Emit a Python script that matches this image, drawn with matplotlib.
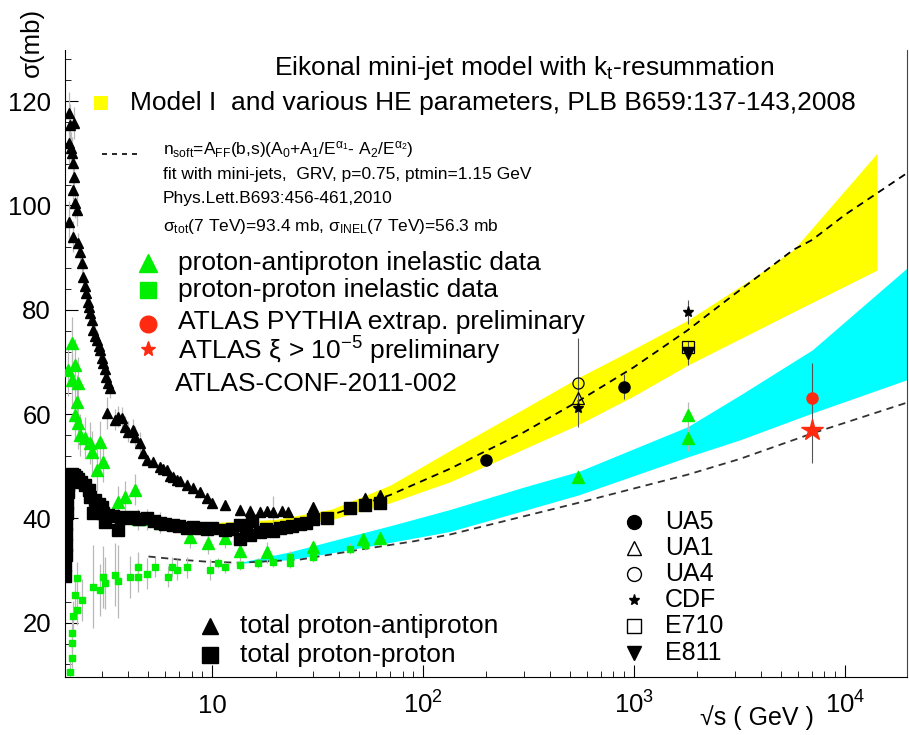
import matplotlib.pyplot as plt
from matplotlib.ticker import MultipleLocator, NullFormatter
import matplotlib.transforms as mtransforms

plt.rcParams['font.family'] = ['Liberation Sans', 'DejaVu Sans']
plt.rcParams['mathtext.fontset'] = 'custom'
plt.rcParams['mathtext.rm'] = 'Liberation Sans'
plt.rcParams['mathtext.it'] = 'Liberation Sans:italic'
plt.rcParams['mathtext.sf'] = 'Liberation Sans'

# --- model bands (sqrt(s) in GeV, sigma in mb) ---
yellow_E = [10, 20, 37, 70, 134, 300, 546, 1000, 1800, 3550, 5700, 14200]
yellow_hi = [39.2, 39.8, 41.8, 46.4, 53.0, 61.0, 67.0, 72.5, 78.0, 85.7, 91.5, 110.0]
yellow_lo = [38.4, 38.6, 39.8, 43.0, 47.0, 53.3, 58.0, 63.5, 69.4, 75.4, 79.6, 87.6]

cyan_E = [13.6, 23.4, 37, 70, 134, 300, 546, 1800, 3200, 7000, 19700]
cyan_hi = [31.6, 33.6, 35.7, 38.6, 41.7, 46.0, 49.0, 57.6, 63.7, 72.3, 88.0]
cyan_lo = [31.4, 32.1, 33.4, 35.4, 37.5, 41.5, 44.5, 51.8, 55.1, 60.2, 66.6]

# --- eikonal mini-jet fits ---
fit_tot_E = [10, 13, 20, 37, 70, 134, 300, 546, 1000, 1800, 3000, 5700, 7000, 10000, 19700]
fit_tot = [38.8, 38.5, 39.0, 40.7, 44.5, 49.5, 56.5, 62.5, 69.0, 76.1, 83.0, 91.5, 93.4, 98.2, 106.2]
fit_inel_E = [5, 7, 9.5, 13.6, 26, 50, 90, 134, 300, 546, 1800, 3177, 7000, 19700]
fit_inel = [32.7, 32.1, 31.7, 31.5, 32.1, 34.0, 35.6, 36.9, 40.4, 43.0, 48.4, 51.4, 56.3, 62.2]

# --- total proton-antiproton ---
pbar_tot_E = [2.10, 2.12, 2.22, 2.10, 2.15, 2.17, 2.19, 2.22, 2.19, 2.24, 2.29, 2.10, 2.19, 2.32,
              2.36, 2.42, 2.45, 2.50, 2.53, 2.58, 2.61, 2.65, 2.70, 2.73, 2.80, 2.85, 2.90, 2.95,
              3.00, 3.04, 3.10, 3.15, 3.21, 3.29, 3.17, 3.47, 3.60, 3.74, 3.87, 4.00, 4.22, 4.32,
              4.56, 4.70, 4.92, 5.25, 5.67, 5.86, 6.12, 6.32, 6.53, 6.82, 7.05, 7.62, 8.13, 8.78,
              9.47, 10.0, 11.5, 13.6, 15.1, 16.9, 18.2, 19.5, 21.5, 22.9, 30.1, 53.1, 62.5]
pbar_tot = [117.7, 115.5, 115.8, 112.0, 111.0, 110.1, 108.1, 105.5, 103.0, 100.5, 99.1, 96.8, 94.0, 92.8,
            91.0, 89.0, 86.3, 84.5, 83.2, 81.5, 80.6, 79.3, 78.1, 76.1, 75.0, 74.2, 73.0, 72.3,
            70.8, 69.8, 68.6, 67.1, 66.0, 65.0, 60.2, 58.9, 59.5, 59.3, 57.6, 56.6, 57.0, 55.7,
            54.5, 52.5, 51.2, 50.9, 49.9, 49.5, 49.3, 48.2, 48.0, 47.4, 47.2, 46.5, 45.9, 45.0,
            44.0, 43.0, 42.6, 41.7, 41.5, 41.3, 41.4, 41.3, 41.5, 41.3, 42.2, 44.0, 44.5]
pbar_tot_err = [4, 4, 3, 4, 3, 3, 3, 3, 3, 3, 3, 4, 3, 2,
                2, 2, 2, 2, 2, 2, 2, 2, 2, 2, 2, 2, 2, 2,
                2, 2, 2, 2, 2, 2, 3, 2, 2, 2, 2, 2, 2, 2,
                2, 1, 1, 1, 1, 1, 1, 1, 1, 1, 1, 1, 1, 1,
                1, 1, 1, 1, 1, 1, 1, 3, 1, 1, 1, 1, 1]

# --- total proton-proton ---
pp_tot_E = [2.02, 2.02, 2.03, 2.03, 2.04, 2.04, 2.05, 2.06, 2.07, 2.08, 2.10, 2.13, 2.17, 2.22, 2.27,
            2.32, 2.40, 2.50, 2.60, 2.65, 2.73, 2.80, 2.90, 3.00, 3.04, 3.10, 3.20, 3.40, 3.59, 3.70,
            4.00, 4.22, 4.50, 4.92, 5.30, 5.67, 6.00, 6.53, 7.00, 7.62, 8.13, 8.78, 9.50, 10.0, 11.5,
            12.5, 13.6, 13.6, 14.5, 15.1, 15.5, 16.9, 18.0, 19.5, 21.0, 22.5, 24.0, 26.1, 28.0, 30.1,
            35.1, 45.1, 53.1, 62.5]
pp_tot = [29.0, 31.0, 33.0, 35.0, 37.0, 39.0, 41.0, 43.0, 45.0, 46.5, 47.5, 48.2, 48.5, 48.3, 48.0,
          47.6, 47.0, 46.5, 45.5, 44.2, 41.1, 43.5, 42.8, 42.2, 41.1, 39.4, 40.7, 40.5, 37.8, 40.3,
          40.0, 40.3, 39.8, 40.0, 39.5, 39.2, 39.0, 38.8, 38.6, 38.2, 38.4, 38.2, 38.0, 38.1, 37.8,
          38.0, 38.8, 36.0, 37.5, 36.9, 39.5, 37.4, 38.0, 37.6, 38.2, 38.3, 38.6, 38.9, 39.2, 39.8,
          40.1, 42.0, 42.6, 43.0]

# --- inelastic proton-antiproton ---
pbar_inel_E = [2.08, 2.17, 2.24, 2.17, 2.32, 2.29, 2.24, 2.32, 2.37, 2.50, 2.64, 2.70, 2.95, 2.85,
               3.04, 3.59, 3.87, 4.32, 4.46, 4.92, 5.67, 7.87, 9.57, 11.5, 13.6, 18.2, 30.1, 52.0,
               62.5, 546, 1800, 1800]
pbar_inel = [68.5, 73.7, 69.4, 66.6, 66.0, 62.4, 59.9, 58.3, 56.0, 55.4, 54.5, 52.8, 54.7, 49.3,
             50.9, 43.2, 44.2, 45.5, 39.8, 39.8, 39.2, 36.4, 35.2, 36.3, 33.8, 33.5, 34.5, 36.0,
             36.2, 48.0, 55.4, 59.9]
pbar_inel_err = [5, 5, 5, 5, 5, 5, 5, 5, 4, 4, 4, 4, 4, 4,
                 4, 3, 3, 3, 2, 2, 2, 2, 2, 2, 2, 2, 1, 1,
                 1, 1.3, 2.5, 2.5]

# --- inelastic proton-proton ---
pp_inel_E = [2.12, 2.17, 2.17, 2.17, 2.19, 2.29, 2.24, 2.42, 2.29, 2.73, 2.95, 3.04, 3.11, 3.47,
             3.59, 4.08, 4.46, 4.46, 4.92, 5.37, 6.18, 6.46, 6.82, 7.62, 9.78, 10.7, 11.5, 13.6,
             16.5, 19.5, 23.4, 23.4, 30.1, 45.1, 53.1]
pp_inel = [10.6, 13.3, 16.2, 18.1, 21.2, 22.5, 25.4, 24.4, 28.6, 26.9, 26.3, 28.8, 27.7, 29.2,
           28.0, 28.8, 30.6, 28.8, 29.4, 30.7, 28.8, 30.7, 30.2, 30.6, 30.2, 31.5, 30.6, 31.1,
           31.5, 31.7, 32.7, 31.5, 32.6, 34.2, 35.0]
pp_inel_err = [2, 2, 2, 3, 3, 3, 3, 4, 3, 8, 5, 6, 5, 6,
               7, 4, 3, 3, 3, 2, 2, 2, 2, 2, 2, 1, 1, 1,
               1, 1, 1, 1, 1, 1, 1]

# --- collider measurements of sigma_tot ---
ua5_E = [200, 900]
ua5 = [51.2, 65.2]
ua5_err = [1.2, 2.4]
ua1_E = [546]
ua1 = [63.0]
ua4_E = [546]
ua4 = [66.0]
ua4_err = [8.5]
cdf_E = [546, 1800]
cdf = [61.2, 79.6]
cdf_err = [1.0, 2.3]
e710_E = [1800]
e710 = [72.9]
e811_E = [1800]
e811 = [71.7]
e811_err = [2.3]

# --- ATLAS 7 TeV inelastic ---
atlas_pythia_E = [7000]
atlas_pythia = [63.0]
atlas_pythia_err = [[12.3], [6.8]]
atlas_xi_E = [7000]
atlas_xi = [57.0]

fig = plt.figure(figsize=(9.09, 7.35), dpi=100)
ax = fig.add_axes([65 / 909, 1 - 677 / 735, 842 / 909, 627 / 735])

ax.fill_between(yellow_E, yellow_lo, yellow_hi, color='#ffff00', lw=0, zorder=1)
ax.fill_between(cyan_E, cyan_lo, cyan_hi, color='#00ffff', lw=0, zorder=1)
ax.plot(fit_tot_E, fit_tot, ls=(0, (4, 3)), color='black', lw=1.3, zorder=2)
ax.plot(fit_inel_E, fit_inel, ls=(0, (4, 3)), color='#333333', lw=1.3, zorder=2)

ebar = dict(ls='none', ecolor='#b8b8b8', elinewidth=0.9, capsize=0)
ax.errorbar(pp_inel_E, pp_inel, yerr=pp_inel_err, fmt='s', ms=5, mfc='#00ee00', mec='#00ee00', zorder=3, **ebar)
ax.errorbar(pbar_inel_E, pbar_inel, yerr=pbar_inel_err, fmt='^', ms=8, mfc='#00ee00', mec='#00ee00', zorder=4, **ebar)
ax.errorbar(pp_tot_E, pp_tot, fmt='s', ms=8, mfc='black', mec='black', zorder=5, ls='none')
ax.errorbar(pbar_tot_E, pbar_tot, yerr=pbar_tot_err, fmt='^', ms=7, mfc='black', mec='black', zorder=5, **ebar)

dark = dict(ls='none', ecolor='#555555', elinewidth=0.8, capsize=0, zorder=6)
ax.errorbar(ua4_E, ua4, yerr=ua4_err, fmt='o', ms=8, mfc='none', mec='black', mew=0.9, **dark)
ax.errorbar(ua1_E, ua1, fmt='^', ms=8, mfc='none', mec='black', mew=0.9, **dark)
ax.errorbar(cdf_E, cdf, yerr=cdf_err, fmt='*', ms=8, mfc='black', mec='black', **dark)
ax.errorbar(e710_E, e710, fmt='s', ms=8, mfc='none', mec='black', mew=0.9, **dark)
ax.errorbar(e811_E, e811, yerr=e811_err, fmt='v', ms=8, mfc='black', mec='black', **dark)
ax.errorbar(ua5_E, ua5, yerr=ua5_err, fmt='o', ms=8, mfc='black', mec='black', **dark)
ax.errorbar(atlas_pythia_E, atlas_pythia, yerr=atlas_pythia_err, fmt='o', ms=8, mfc='#ff2a10', mec='#ff2a10', **dark)
ax.plot(atlas_xi_E, atlas_xi, '*', ms=16, color='#ff2a10', zorder=7)

ax.set_xscale('log')
ax.set_xlim(2.01, 19700)
ax.set_ylim(9.6, 129.8)
ax.spines['top'].set_visible(False)
ax.spines['right'].set_color('#444444')
ax.set_yticks([20, 40, 60, 80, 100, 120])
ax.yaxis.set_minor_locator(MultipleLocator(4))
ax.tick_params(axis='both', which='major', direction='in', length=9, width=0.8, labelsize=18.5,
               top=False, right=False)
ax.tick_params(axis='both', which='minor', direction='in', length=4.5, width=0.6, top=False, right=False)
ax.tick_params(axis='y', pad=10)
ax.set_xticks([10, 100, 1000, 10000])
ax.xaxis.set_major_formatter(NullFormatter())
ax.xaxis.set_minor_formatter(NullFormatter())

xtrans = mtransforms.blended_transform_factory(ax.transData, ax.transAxes)
for tick, lab in zip([10, 100, 1000, 10000], ['10', '$10^{2}$', '$10^{3}$', '$10^{4}$']):
    ax.text(tick, -0.058, lab, transform=xtrans, ha='center', va='baseline', fontsize=18.5)


def fx(px):
    return px / 909


def fy(py):
    return 1 - py / 735


fig.text(fx(757), fy(718), '√s ( GeV )', ha='center', va='center', fontsize=18)
fig.text(fx(32), fy(42), 'σ(mb)', rotation=90, ha='center', va='center', fontsize=18.5)

fig.text(fx(524), fy(68), 'Eikonal mini-jet model with k$_{\\mathregular{t}}$-resummation',
         ha='center', va='center', fontsize=19)
fig.patches.append(plt.Rectangle((fx(94), fy(110)), 14 / 909, 14 / 735, transform=fig.transFigure,
                                 color='#ffff00', lw=0))
fig.text(fx(130), fy(103), 'Model I  and various HE parameters, PLB B659:137-143,2008',
         ha='left', va='center', fontsize=19)

fig.add_artist(plt.Line2D([fx(102), fx(142)], [fy(154), fy(154)], ls=(0, (3, 3)), color='black', lw=1.2))
small = 12.5
fig.text(fx(163), fy(150), r'n$_{\mathregular{soft}}$=A$_{\mathregular{FF}}$(b,s)(A$_{\mathregular{0}}$+A$_{\mathregular{1}}$/E$^{\mathrm{\alpha_1}}$- A$_{\mathregular{2}}$/E$^{\mathrm{\alpha_2}}$)',
         ha='left', va='center', fontsize=small)
fig.text(fx(163), fy(174), 'fit with mini-jets,  GRV, p=0.75, ptmin=1.15 GeV', ha='left', va='center', fontsize=small)
fig.text(fx(163), fy(199), 'Phys.Lett.B693:456-461,2010', ha='left', va='center', fontsize=small)
fig.text(fx(163), fy(226), r'σ$_{\mathregular{tot}}$(7 TeV)=93.4 mb, σ$_{\mathregular{INEL}}$(7 TeV)=56.3 mb',
         ha='left', va='center', fontsize=small)

big = 19
legend_rows = [
    (263, 263, '^', 13, '#00ee00', 'proton-antiproton inelastic data'),
    (290, 290, 's', 12, '#00ee00', 'proton-proton inelastic data'),
    (324, 322, 'o', 12, '#ff2a10', 'ATLAS PYTHIA extrap. preliminary'),
    (349, 351, '*', 11, '#ff2a10', r'ATLAS ξ > 10$^{\mathregular{-5}}$ preliminary'),
]
for my, ty, m, ms, c, lab in legend_rows:
    fig.add_artist(plt.Line2D([fx(148)], [fy(my)], marker=m, ms=ms, color=c, ls='none'))
    fig.text(fx(178), fy(ty), lab, ha='left', va='center', fontsize=big)
fig.text(fx(175), fy(384), 'ATLAS-CONF-2011-002', ha='left', va='center', fontsize=big)

for py, m, lab in [(626, '^', 'total proton-antiproton'), (655, 's', 'total proton-proton')]:
    fig.add_artist(plt.Line2D([fx(210)], [fy(py)], marker=m, ms=11, color='black', ls='none'))
    fig.text(fx(240), fy(py), lab, ha='left', va='center', fontsize=big)

exp_rows = [
    (522, 'o', 'black', 'UA5'),
    (548, '^', 'none', 'UA1'),
    (574, 'o', 'none', 'UA4'),
    (600, '*', 'black', 'CDF'),
    (626, 's', 'none', 'E710'),
    (653, 'v', 'black', 'E811'),
]
for py, m, fc, lab in exp_rows:
    fig.add_artist(plt.Line2D([fx(634)], [fy(py)], marker=m, ms=10 if m != '*' else 8,
                              mfc=fc, mec='black', mew=1.0, ls='none'))
    fig.text(fx(665), fy(py), lab, ha='left', va='center', fontsize=18)

plt.savefig('out.png', dpi=100)
